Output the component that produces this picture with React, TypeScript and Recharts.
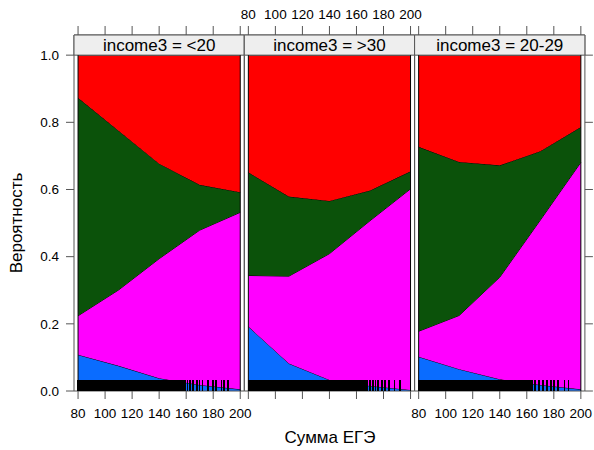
import { ComposedChart, Area, XAxis, YAxis, Scatter, ReferenceArea, ReferenceLine } from "recharts";

const scores = [80, 110, 140, 170, 200];
const xTicks = [80, 100, 120, 140, 160, 180, 200];
const yTicks = [0, 0.2, 0.4, 0.6, 0.8, 1.0];
const incomeGroups = ["<20", ">30", "20-29"];

// predicted probabilities, one row per income group (same order as incomeGroups)
const probBlue = [
  [0.108, 0.075, 0.038, 0.018, 0.005],
  [0.192, 0.082, 0.033, 0.015, 0.003],
  [0.102, 0.065, 0.035, 0.018, 0.005],
];
const probMagenta = [
  [0.116, 0.226, 0.356, 0.461, 0.527],
  [0.152, 0.26, 0.376, 0.492, 0.599],
  [0.076, 0.16, 0.304, 0.491, 0.676],
];
const probGreen = [
  [0.649, 0.474, 0.283, 0.135, 0.06],
  [0.307, 0.237, 0.157, 0.09, 0.052],
  [0.549, 0.457, 0.333, 0.205, 0.105],
];
const probRed = [
  [0.127, 0.225, 0.323, 0.386, 0.408],
  [0.349, 0.421, 0.434, 0.403, 0.346],
  [0.273, 0.318, 0.328, 0.286, 0.214],
];

// observed scores (rug)
const rugLow = [
  80, 81, 82, 83, 84, 85, 86, 87, 88, 89, 90, 91, 92, 93, 94, 95, 96, 97, 98, 99,
  100, 101, 102, 103, 104, 105, 106, 107, 108, 109, 110, 111, 112, 113, 114, 115, 116, 117, 118, 119,
  120, 121, 122, 123, 124, 125, 126, 127, 128, 129, 130, 131, 132, 133, 134, 135, 136, 137, 138, 139,
  140, 141, 142, 143, 144, 145, 146, 147, 148, 149, 150, 151, 152, 153, 154, 155, 156, 157, 158, 159,
  161, 163, 165, 168, 170, 172, 176, 180, 182, 186, 188, 191,
];
const rugHigh = [
  80, 81, 82, 83, 84, 85, 86, 87, 88, 89, 90, 91, 92, 93, 94, 95, 96, 97, 98, 99,
  100, 101, 102, 103, 104, 105, 106, 107, 108, 109, 110, 111, 112, 113, 114, 115, 116, 117, 118, 119,
  120, 121, 122, 123, 124, 125, 126, 127, 128, 129, 130, 131, 132, 133, 134, 135, 136, 137, 138, 139,
  140, 141, 142, 143, 144, 145, 146, 147, 148, 149, 150, 151, 152, 153, 154, 155, 156, 157, 158, 159,
  160, 161, 162, 163, 164, 165, 166, 167, 168, 170, 172, 174, 176, 179, 181, 184, 188, 192,
];
const rugMid = [
  80, 81, 82, 83, 84, 85, 86, 87, 88, 89, 90, 91, 92, 93, 94, 95, 96, 97, 98, 99,
  100, 101, 102, 103, 104, 105, 106, 107, 108, 109, 110, 111, 112, 113, 114, 115, 116, 117, 118, 119,
  120, 121, 122, 123, 124, 125, 126, 127, 128, 129, 130, 131, 132, 133, 134, 135, 136, 137, 138, 139,
  140, 141, 142, 143, 144, 145, 146, 147, 148, 149, 150, 151, 152, 153, 154, 155, 156, 157, 158, 159,
  160, 161, 162, 163, 164, 166, 169, 172, 175, 178, 180, 183, 188, 191,
];
const rugs = [rugLow, rugHigh, rugMid];

const FONT = "'Liberation Sans', Arial, Helvetica, sans-serif";
const GREY = "#555";
const PANEL_W = 170.3;
const PANEL_LEFT = [74, 244.3, 414.6];
const X_DOMAIN: [number, number] = [77, 203];
const Y_TOP = 1.06; // room above 1.0 for the strip

const RugTick = (props: any) => {
  const { cx, cy } = props;
  return <line x1={cx} x2={cx} y1={cy} y2={cy - 11} stroke="#000" strokeWidth={1.6} shapeRendering="crispEdges" />;
};

function Panel({ idx }: { idx: number }) {
  const rows = scores.map((x, i) => ({
    x,
    blue: probBlue[idx][i],
    magenta: probMagenta[idx][i],
    green: probGreen[idx][i],
    red: probRed[idx][i],
  }));
  const rug = rugs[idx].map((x) => ({ x, y: 0 }));
  const left = PANEL_LEFT[idx];
  const tickStyle = { fontSize: 13.5, fill: "#000", fontFamily: FONT };
  const showBottom = idx !== 1;
  const showTop = idx === 1;
  const first = scores[0];
  const last = scores[scores.length - 1];
  // axes are 1px wide/high, margins compensate so the plot box stays put
  const margin = {
    top: 34,
    bottom: 58,
    left: idx === 0 ? left - 1 : left,
    right: 594 - left - PANEL_W - (idx === 2 ? 1 : 0),
  };

  return (
    <div style={{ position: "absolute", left: 0, top: 0 }}>
      <ComposedChart width={594} height={450} data={rows} margin={margin}>
        <XAxis
          dataKey="x"
          type="number"
          domain={X_DOMAIN}
          ticks={xTicks}
          allowDataOverflow
          height={1}
          axisLine={false}
          tickSize={8}
          tickMargin={9}
          stroke={GREY}
          tick={tickStyle}
          tickFormatter={(v) => (showBottom ? String(v) : "")}
          interval={0}
        />
        <XAxis
          xAxisId="top"
          orientation="top"
          dataKey="x"
          type="number"
          domain={X_DOMAIN}
          ticks={xTicks}
          allowDataOverflow
          height={1}
          axisLine={false}
          tickSize={9}
          tickMargin={7}
          stroke={GREY}
          tick={tickStyle}
          tickFormatter={(v) => (showTop ? String(v) : "")}
          interval={0}
        />
        {idx === 0 && (
          <YAxis
            type="number"
            domain={[0, Y_TOP]}
            ticks={yTicks}
            allowDataOverflow
            width={1}
            axisLine={false}
            tickSize={8}
            tickMargin={7}
            stroke={GREY}
            tick={tickStyle}
            tickFormatter={(v) => Number(v).toFixed(1)}
            interval={0}
          />
        )}
        {idx === 1 && <YAxis type="number" domain={[0, Y_TOP]} allowDataOverflow hide />}
        {idx === 2 && (
          <YAxis
            type="number"
            orientation="right"
            domain={[0, Y_TOP]}
            ticks={yTicks}
            allowDataOverflow
            width={1}
            axisLine={false}
            tickSize={8}
            stroke={GREY}
            tick={tickStyle}
            tickFormatter={() => ""}
            interval={0}
          />
        )}
        <Area type="linear" dataKey="blue" stackId="p" fill="#0a6cff" fillOpacity={1} stroke="#000" strokeWidth={1} dot={false} activeDot={false} isAnimationActive={false} />
        <Area type="linear" dataKey="magenta" stackId="p" fill="#ff00ff" fillOpacity={1} stroke="#000" strokeWidth={1} dot={false} activeDot={false} isAnimationActive={false} />
        <Area type="linear" dataKey="green" stackId="p" fill="#0b520a" fillOpacity={1} stroke="#000" strokeWidth={1} dot={false} activeDot={false} isAnimationActive={false} />
        <Area type="linear" dataKey="red" stackId="p" fill="#ff0000" fillOpacity={1} stroke="#000" strokeWidth={1} dot={false} activeDot={false} isAnimationActive={false} />
        <ReferenceLine segment={[{ x: first, y: 0 }, { x: first, y: 1 }]} stroke="#000" strokeWidth={1} />
        <ReferenceLine segment={[{ x: last, y: 0 }, { x: last, y: 1 }]} stroke="#000" strokeWidth={1} />
        <Scatter data={rug} dataKey="y" shape={RugTick} isAnimationActive={false} />
        <ReferenceArea x1={X_DOMAIN[0]} x2={X_DOMAIN[1]} y1={0} y2={Y_TOP} fill="none" stroke={GREY} strokeWidth={1} />
        <ReferenceArea
          xAxisId="top"
          x1={X_DOMAIN[0]}
          x2={X_DOMAIN[1]}
          y1={1}
          y2={Y_TOP}
          fill="#eeeeee"
          fillOpacity={1}
          stroke={GREY}
          strokeWidth={1}
          label={{ value: `income3 = ${incomeGroups[idx]}`, position: "center", fontSize: 17, fill: "#000", fontFamily: FONT }}
        />
      </ComposedChart>
    </div>
  );
}

export default function App() {
  return (
    <div style={{ position: "absolute", left: 0, top: 0, width: 594, height: 450, background: "#fff", fontFamily: FONT }}>
      {incomeGroups.map((g, i) => (
        <Panel key={g} idx={i} />
      ))}
      <div style={{ position: "absolute", left: 0, top: 428, width: 594, paddingLeft: 66, boxSizing: "border-box", textAlign: "center", fontSize: 17 }}>
        Сумма ЕГЭ
      </div>
      <div
        style={{
          position: "absolute",
          left: 17,
          top: 223,
          fontSize: 17,
          whiteSpace: "nowrap",
          transform: "translate(-50%, -50%) rotate(-90deg)",
        }}
      >
        Вероятность
      </div>
    </div>
  );
}
